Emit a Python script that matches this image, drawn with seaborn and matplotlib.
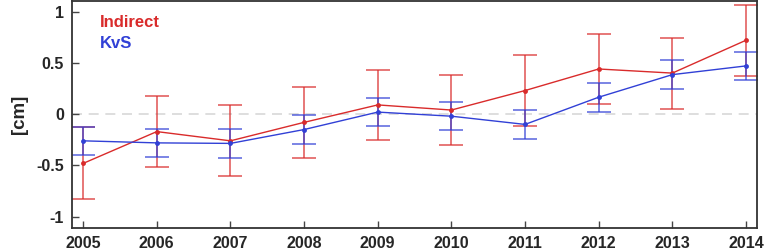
import matplotlib
matplotlib.use("Agg")
import matplotlib.pyplot as plt
import seaborn as sns
import pandas as pd

sns.set_style("ticks")
plt.rcParams['font.family'] = ['Liberation Sans', 'DejaVu Sans']

# data
years = [2005, 2006, 2007, 2008, 2009, 2010, 2011, 2012, 2013, 2014]
indirect = [-0.48, -0.17, -0.26, -0.08, 0.09, 0.04, 0.23, 0.44, 0.40, 0.72]
indirect_err = [0.35, 0.345, 0.345, 0.345, 0.345, 0.345, 0.345, 0.345, 0.345, 0.345]
kvs = [-0.26, -0.28, -0.285, -0.15, 0.02, -0.02, -0.10, 0.165, 0.385, 0.47]
kvs_err = [0.138, 0.14, 0.138, 0.14, 0.14, 0.138, 0.138, 0.14, 0.14, 0.138]

red = '#d92b2b'
blue = '#3140d6'

df = pd.DataFrame({'year': years * 2,
                   'value': indirect + kvs,
                   'series': ['Indirect'] * len(years) + ['KvS'] * len(years)})

fig = plt.figure(figsize=(7.67, 2.52), dpi=100)
ax = fig.add_axes([0.094, 0.095, 0.893, 0.9])

ax.axhline(0, color='#d8d8d8', lw=1.2, ls=(0, (6, 4)), zorder=0)

# error bars
ax.errorbar(years, indirect, yerr=indirect_err, fmt='none', ecolor=red,
            alpha=0.75, elinewidth=1.2, capsize=8.3, capthick=1.2)
ax.errorbar(years, kvs, yerr=kvs_err, fmt='none', ecolor=blue,
            alpha=0.75, elinewidth=1.2, capsize=8.3, capthick=1.2)

sns.lineplot(data=df, x='year', y='value', hue='series',
             palette={'Indirect': red, 'KvS': blue}, marker='o',
             markersize=3.5, markeredgewidth=0, lw=1, legend=False, ax=ax)

ax.set_xlim(2004.85, 2014.15)
ax.set_ylim(-1.11, 1.1)
ax.set_xticks(years)
ax.set_xticklabels([str(y) for y in years])
ax.set_yticks([-1, -0.5, 0, 0.5, 1])
ax.set_yticklabels(['-1', '-0.5', '0', '0.5', '1'])
ax.tick_params(axis='both', direction='in', length=5, width=1, color='#444444',
               labelsize=11.5, pad=6)
for lab in ax.get_xticklabels() + ax.get_yticklabels():
    lab.set_fontweight('bold')
ax.set_xlabel('')
ax.set_ylabel('[cm]', fontsize=13.5, fontweight='bold', labelpad=6)
for spine in ax.spines.values():
    spine.set_visible(True)
    spine.set_linewidth(1.3)
    spine.set_color('#333333')

ax.text(0.04, 0.905, 'Indirect', color=red, fontsize=12, fontweight='bold',
        transform=ax.transAxes, va='center')
ax.text(0.04, 0.815, 'KvS', color=blue, fontsize=12, fontweight='bold',
        transform=ax.transAxes, va='center')

plt.savefig("out.png", dpi=100)
